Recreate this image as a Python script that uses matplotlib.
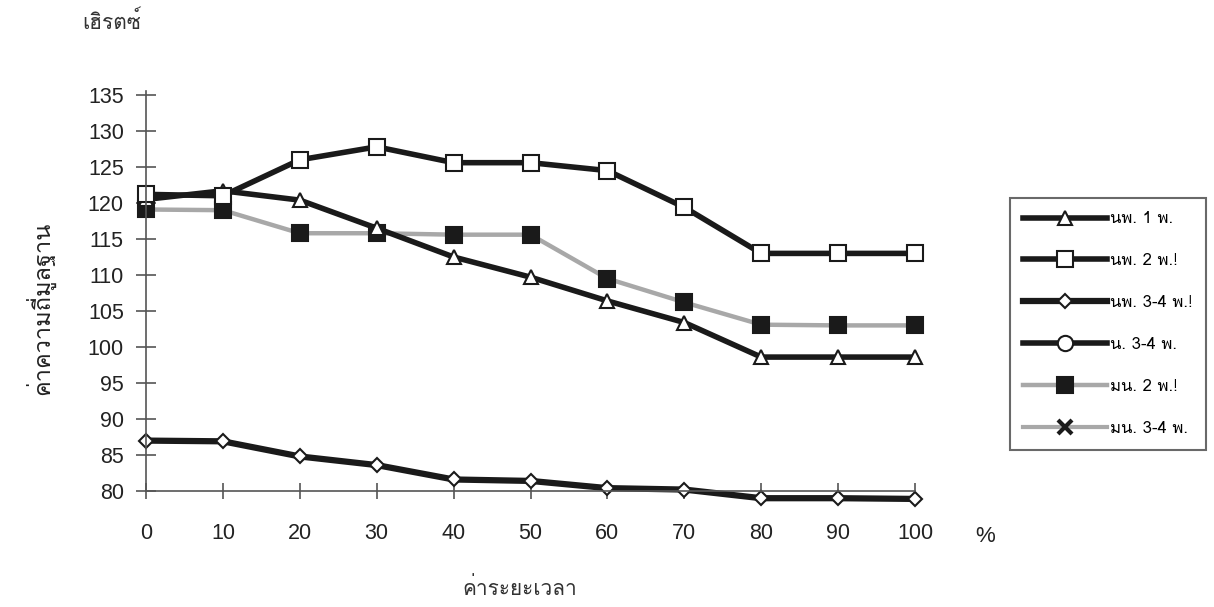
import numpy as np
import matplotlib
matplotlib.use('Agg')
import matplotlib.pyplot as plt
import matplotlib.font_manager as fm
from matplotlib.ft2font import FT2Font

# ========== หาแบบอักษรที่มีอักษรไทย ==========
thai_font = None
for f in fm.fontManager.ttflist:
    try:
        ft = FT2Font(f.fname)
        if ft.get_char_index(ord('ก')) and ft.get_char_index(ord('5')):
            thai_font = f.name
            break
    except Exception:
        continue
FAMILY = [thai_font, 'DejaVu Sans'] if thai_font else ['DejaVu Sans']
NUM_FAMILY = ['Liberation Sans', 'DejaVu Sans']

# ========== ข้อมูล ==========
x_vals = [0, 10, 20, 30, 40, 50, 60, 70, 80, 90, 100]
np1 = [120.5, 121.7, 120.4, 116.5, 112.5, 109.7, 106.4, 103.4, 98.6, 98.6, 98.6]
np2 = [121.2, 121.0, 126.0, 127.8, 125.6, 125.6, 124.5, 119.4, 113.0, 113.0, 113.0]
np34 = [87.0, 86.9, 84.8, 83.6, 81.6, 81.4, 80.4, 80.2, 79.0, 79.0, 78.9]
n34 = [np.nan] * 11
mn2 = [119.1, 119.0, 115.8, 115.8, 115.6, 115.6, 109.5, 106.2, 103.1, 103.0, 103.0]
mn34 = [np.nan] * 11

labels = ['นพ. 1 พ.', 'นพ. 2 พ.!', 'นพ. 3-4 พ.!', 'น. 3-4 พ.', 'มน. 2 พ.!', 'มน. 3-4 พ.']
y_ticks = [80, 85, 90, 95, 100, 105, 110, 115, 120, 125, 130, 135]

fig = plt.figure(figsize=(12.14, 6.07), dpi=100)
# 0 -> x=146px, 100 -> x=915px ; 135 -> y=95px, 80 -> y=491px
ppu = (491 - 95) / 55
y_lo, y_hi = 77, 136
ax = fig.add_axes([146 / 1214, 1 - (491 + (80 - y_lo) * ppu) / 607,
                   (915 - 146) / 1214, (y_hi - y_lo) * ppu / 607])

black = '#1a1a1a'
gray = '#a8a8a8'
common = dict(clip_on=False, markeredgewidth=1.5)

ax.plot(x_vals, mn34, color=gray, lw=3, marker='x', ms=10, mec=black, mew=3, label=labels[5], clip_on=False)
ax.plot(x_vals, mn2, color=gray, lw=3.2, marker='s', ms=11, mfc=black, mec=black, label=labels[4], **common)
ax.plot(x_vals, n34, color=black, lw=4, marker='o', ms=11, mfc='white', mec=black, label=labels[3], **common)
ax.plot(x_vals, np34, color=black, lw=4.5, marker='D', ms=7, mfc='white', mec=black, label=labels[2], **common)
ax.plot(x_vals, np1, color=black, lw=4, marker='^', ms=10, mfc='white', mec=black, label=labels[0], **common)
ax.plot(x_vals, np2, color=black, lw=4, marker='s', ms=12, mfc='white', mec=black, label=labels[1], **common)

ax.set_xlim(0, 100)
ax.set_ylim(y_lo, y_hi)
ax.spines['top'].set_visible(False)
ax.spines['right'].set_visible(False)
ax.spines['bottom'].set_position(('data', 80))
ax.spines['bottom'].set_bounds(0, 100)
ax.spines['left'].set_bounds(80, 135.5)
for sp in ('left', 'bottom'):
    ax.spines[sp].set_color('#555555')
    ax.spines[sp].set_linewidth(1.2)

ax.set_yticks(y_ticks)
ax.set_xticks(x_vals)
ax.tick_params(axis='y', direction='inout', length=14, width=1.2, color='#555555', pad=9)
ax.tick_params(axis='x', direction='inout', length=12, width=1.2, color='#555555', pad=17)
for t in ax.get_xticklabels() + ax.get_yticklabels():
    t.set_family(NUM_FAMILY)
    t.set_fontsize(15.5)
    t.set_color('#222222')

fig.text(985 / 1214, 1 - 537 / 607, '%', family=NUM_FAMILY, fontsize=16, ha='center', va='center', color='#222222')
fig.text(112 / 1214, 1 - 22 / 607, 'เฮิรตซ์', family=FAMILY, fontsize=15, ha='center', va='center', color='#333333')
fig.text(40 / 1214, 1 - 308 / 607, 'ค่าความถี่มูลฐาน', family=FAMILY, fontsize=17, rotation=90,
         ha='center', va='center', color='#222222')
fig.text(520 / 1214, 1 - 588 / 607, 'ค่าระยะเวลา', family=FAMILY, fontsize=15, ha='center', va='center', color='#333333')

handles, labs = ax.get_legend_handles_labels()
order = [labs.index(l) for l in labels]
leg = fig.legend([handles[i] for i in order], [labs[i] for i in order],
                 loc='upper left', bbox_to_anchor=(1010 / 1214, 1 - 198 / 607),
                 prop={'family': FAMILY, 'size': 12}, handlelength=5.0, labelspacing=1.55,
                 frameon=True, fancybox=False, edgecolor='#444444', borderpad=0.8,
                 handletextpad=0.2, borderaxespad=0)
leg.get_frame().set_linewidth(1.5)

fig.savefig('out.png', dpi=100)
